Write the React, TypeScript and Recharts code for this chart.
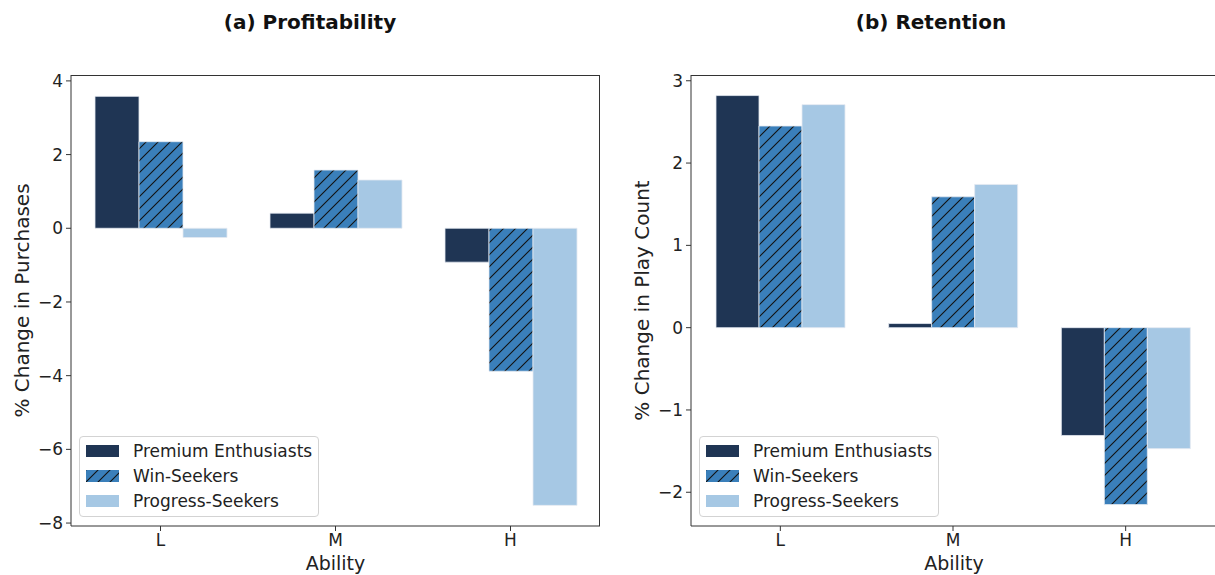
import React from "react";
import { Bar, BarChart, XAxis, YAxis, Legend, Label } from "recharts";

const abilities = ["L", "M", "H"];
const seriesNames = ["Premium Enthusiasts", "Win-Seekers", "Progress-Seekers"];

// (a) profitability, % change in purchases
const purchasesPremium = [3.58, 0.41, -0.92];
const purchasesWin = [2.35, 1.58, -3.88];
const purchasesProgress = [-0.25, 1.31, -7.52];
const purchaseTicks = [-8, -6, -4, -2, 0, 2, 4];

// (b) retention, % change in play count
const playPremium = [2.82, 0.05, -1.31];
const playWin = [2.45, 1.59, -2.15];
const playProgress = [2.71, 1.74, -1.47];
const playTicks = [-2, -1, 0, 1, 2, 3];

const DARK = "#1f3554";
const MID = "#3a7fba";
const LIGHT = "#a6c8e4";
const FONT = "DejaVu Sans";
const SPINE = "#333";

const toRows = (a: number[], b: number[], c: number[]) =>
  abilities.map((ability, i) => ({ ability, premium: a[i], win: b[i], progress: c[i] }));

const fmt = (v: number) => String(v).replace("-", "\u2212");

function Hatch({ id }: { id: string }) {
  return (
    <pattern id={id} patternUnits="userSpaceOnUse" width={12} height={12}>
      <rect width={12} height={12} fill={MID} />
      <path d="M-1,1 L1,-1 M0,12 L12,0 M11,13 L13,11" stroke="#111" strokeWidth={1.1} />
    </pattern>
  );
}

function LegendBox() {
  const fills = [DARK, "url(#hatch-legend)", LIGHT];
  return (
    <div
      style={{
        boxSizing: "border-box",
        width: 240,
        height: 81,
        border: "1px solid #d3d3d3",
        borderRadius: 4,
        background: "rgba(255,255,255,0.85)",
        padding: "1px 0 0 6px",
        fontFamily: FONT,
        fontSize: 17,
        color: "#222",
      }}
    >
      {seriesNames.map((name, i) => (
        <div key={name} style={{ display: "flex", alignItems: "center", height: 25 }}>
          <svg width={33} height={12} style={{ marginRight: 14 }}>
            <defs>
              <Hatch id="hatch-legend" />
            </defs>
            <rect width={33} height={12} fill={fills[i]} />
          </svg>
          <span>{name}</span>
        </div>
      ))}
    </div>
  );
}

type PanelProps = {
  left: number;
  width: number;
  rows: ReturnType<typeof toRows>;
  domain: [number, number];
  ticks: number[];
  ylabel: string;
  barSize: number;
  pad: { left: number; right: number };
  marginRight: number;
  hatchId: string;
};

function Panel({ left, width, rows, domain, ticks, ylabel, barSize, pad, marginRight, hatchId }: PanelProps) {
  const tickStyle = { fontFamily: FONT, fontSize: 17, fill: "#222" };
  const plotW = width - marginRight - 71;
  return (
    <div style={{ position: "absolute", left, top: 0 }}>
      <BarChart
        width={width}
        height={575}
        data={rows}
        margin={{ top: 75, right: marginRight, bottom: 0, left: 0 }}
        barGap={0}
      >
        <defs>
          <Hatch id={hatchId} />
        </defs>
        <XAxis
          dataKey="ability"
          padding={pad}
          height={49}
          tick={tickStyle}
          tickSize={5}
          tickMargin={3}
          stroke={SPINE}
        >
          <Label
            value="Ability"
            position="insideBottom"
            offset={5}
            style={{ fontFamily: FONT, fontSize: 19, fill: "#222" }}
          />
        </XAxis>
        <YAxis
          domain={domain}
          ticks={ticks}
          allowDataOverflow
          width={71}
          tick={tickStyle}
          tickSize={5}
          tickMargin={3}
          tickFormatter={fmt}
          stroke={SPINE}
        >
          <Label
            content={({ viewBox }: any) => {
              const cx = 22;
              const cy = viewBox.y + viewBox.height / 2;
              return (
                <text
                  x={cx}
                  y={cy}
                  transform={`rotate(-90 ${cx} ${cy})`}
                  textAnchor="middle"
                  dominantBaseline="central"
                  style={{ fontFamily: FONT, fontSize: 20, fill: "#222" }}
                >
                  {ylabel}
                </text>
              );
            }}
          />
        </YAxis>
        <Legend
          layout="vertical"
          align="center"
          verticalAlign="middle"
          wrapperStyle={{ left: 79, top: 436, width: 240, height: 81 }}
          content={() => <LegendBox />}
        />
        <Bar dataKey="premium" name={seriesNames[0]} fill={DARK} stroke="#e4eaf1" strokeWidth={0.8} barSize={barSize} isAnimationActive={false} />
        <Bar dataKey="win" name={seriesNames[1]} fill={`url(#${hatchId})`} stroke="#e4eaf1" strokeWidth={0.8} barSize={barSize} isAnimationActive={false} />
        <Bar dataKey="progress" name={seriesNames[2]} fill={LIGHT} stroke="#e4eaf1" strokeWidth={0.8} barSize={barSize} isAnimationActive={false} />
      </BarChart>
      {/* top and right spines */}
      <div
        style={{
          position: "absolute",
          left: 71,
          top: 75,
          width: plotW,
          height: 451,
          boxSizing: "border-box",
          borderTop: `1px solid ${SPINE}`,
          borderRight: `1px solid ${SPINE}`,
          pointerEvents: "none",
        }}
      />
    </div>
  );
}

export default function App() {
  return (
    <div
      style={{
        position: "fixed",
        left: 0,
        top: 0,
        width: 1215,
        height: 575,
        overflow: "hidden",
        background: "#fff",
      }}
    >
      <Panel
        left={0}
        width={610}
        rows={toRows(purchasesPremium, purchasesWin, purchasesProgress)}
        domain={[-8.08, 4.16]}
        ticks={purchaseTicks}
        ylabel="% Change in Purchases"
        barSize={44}
        pad={{ left: 2, right: 2 }}
        marginRight={10}
        hatchId="hatch-a"
      />
      <Panel
        left={620}
        width={597}
        rows={toRows(playPremium, playWin, playProgress)}
        domain={[-2.41, 3.07]}
        ticks={playTicks}
        ylabel="% Change in Play Count"
        barSize={43}
        pad={{ left: 3, right: 5 }}
        marginRight={0}
        hatchId="hatch-b"
      />
      <svg
        width={1215}
        height={575}
        style={{ position: "absolute", left: 0, top: 0, pointerEvents: "none" }}
      >
        <text x={310} y={29} textAnchor="middle" style={{ fontFamily: FONT, fontSize: 20, fontWeight: 700, fill: "#111" }}>
          (a) Profitability
        </text>
        <text x={931} y={29} textAnchor="middle" style={{ fontFamily: FONT, fontSize: 20, fontWeight: 700, fill: "#111" }}>
          (b) Retention
        </text>
      </svg>
    </div>
  );
}
